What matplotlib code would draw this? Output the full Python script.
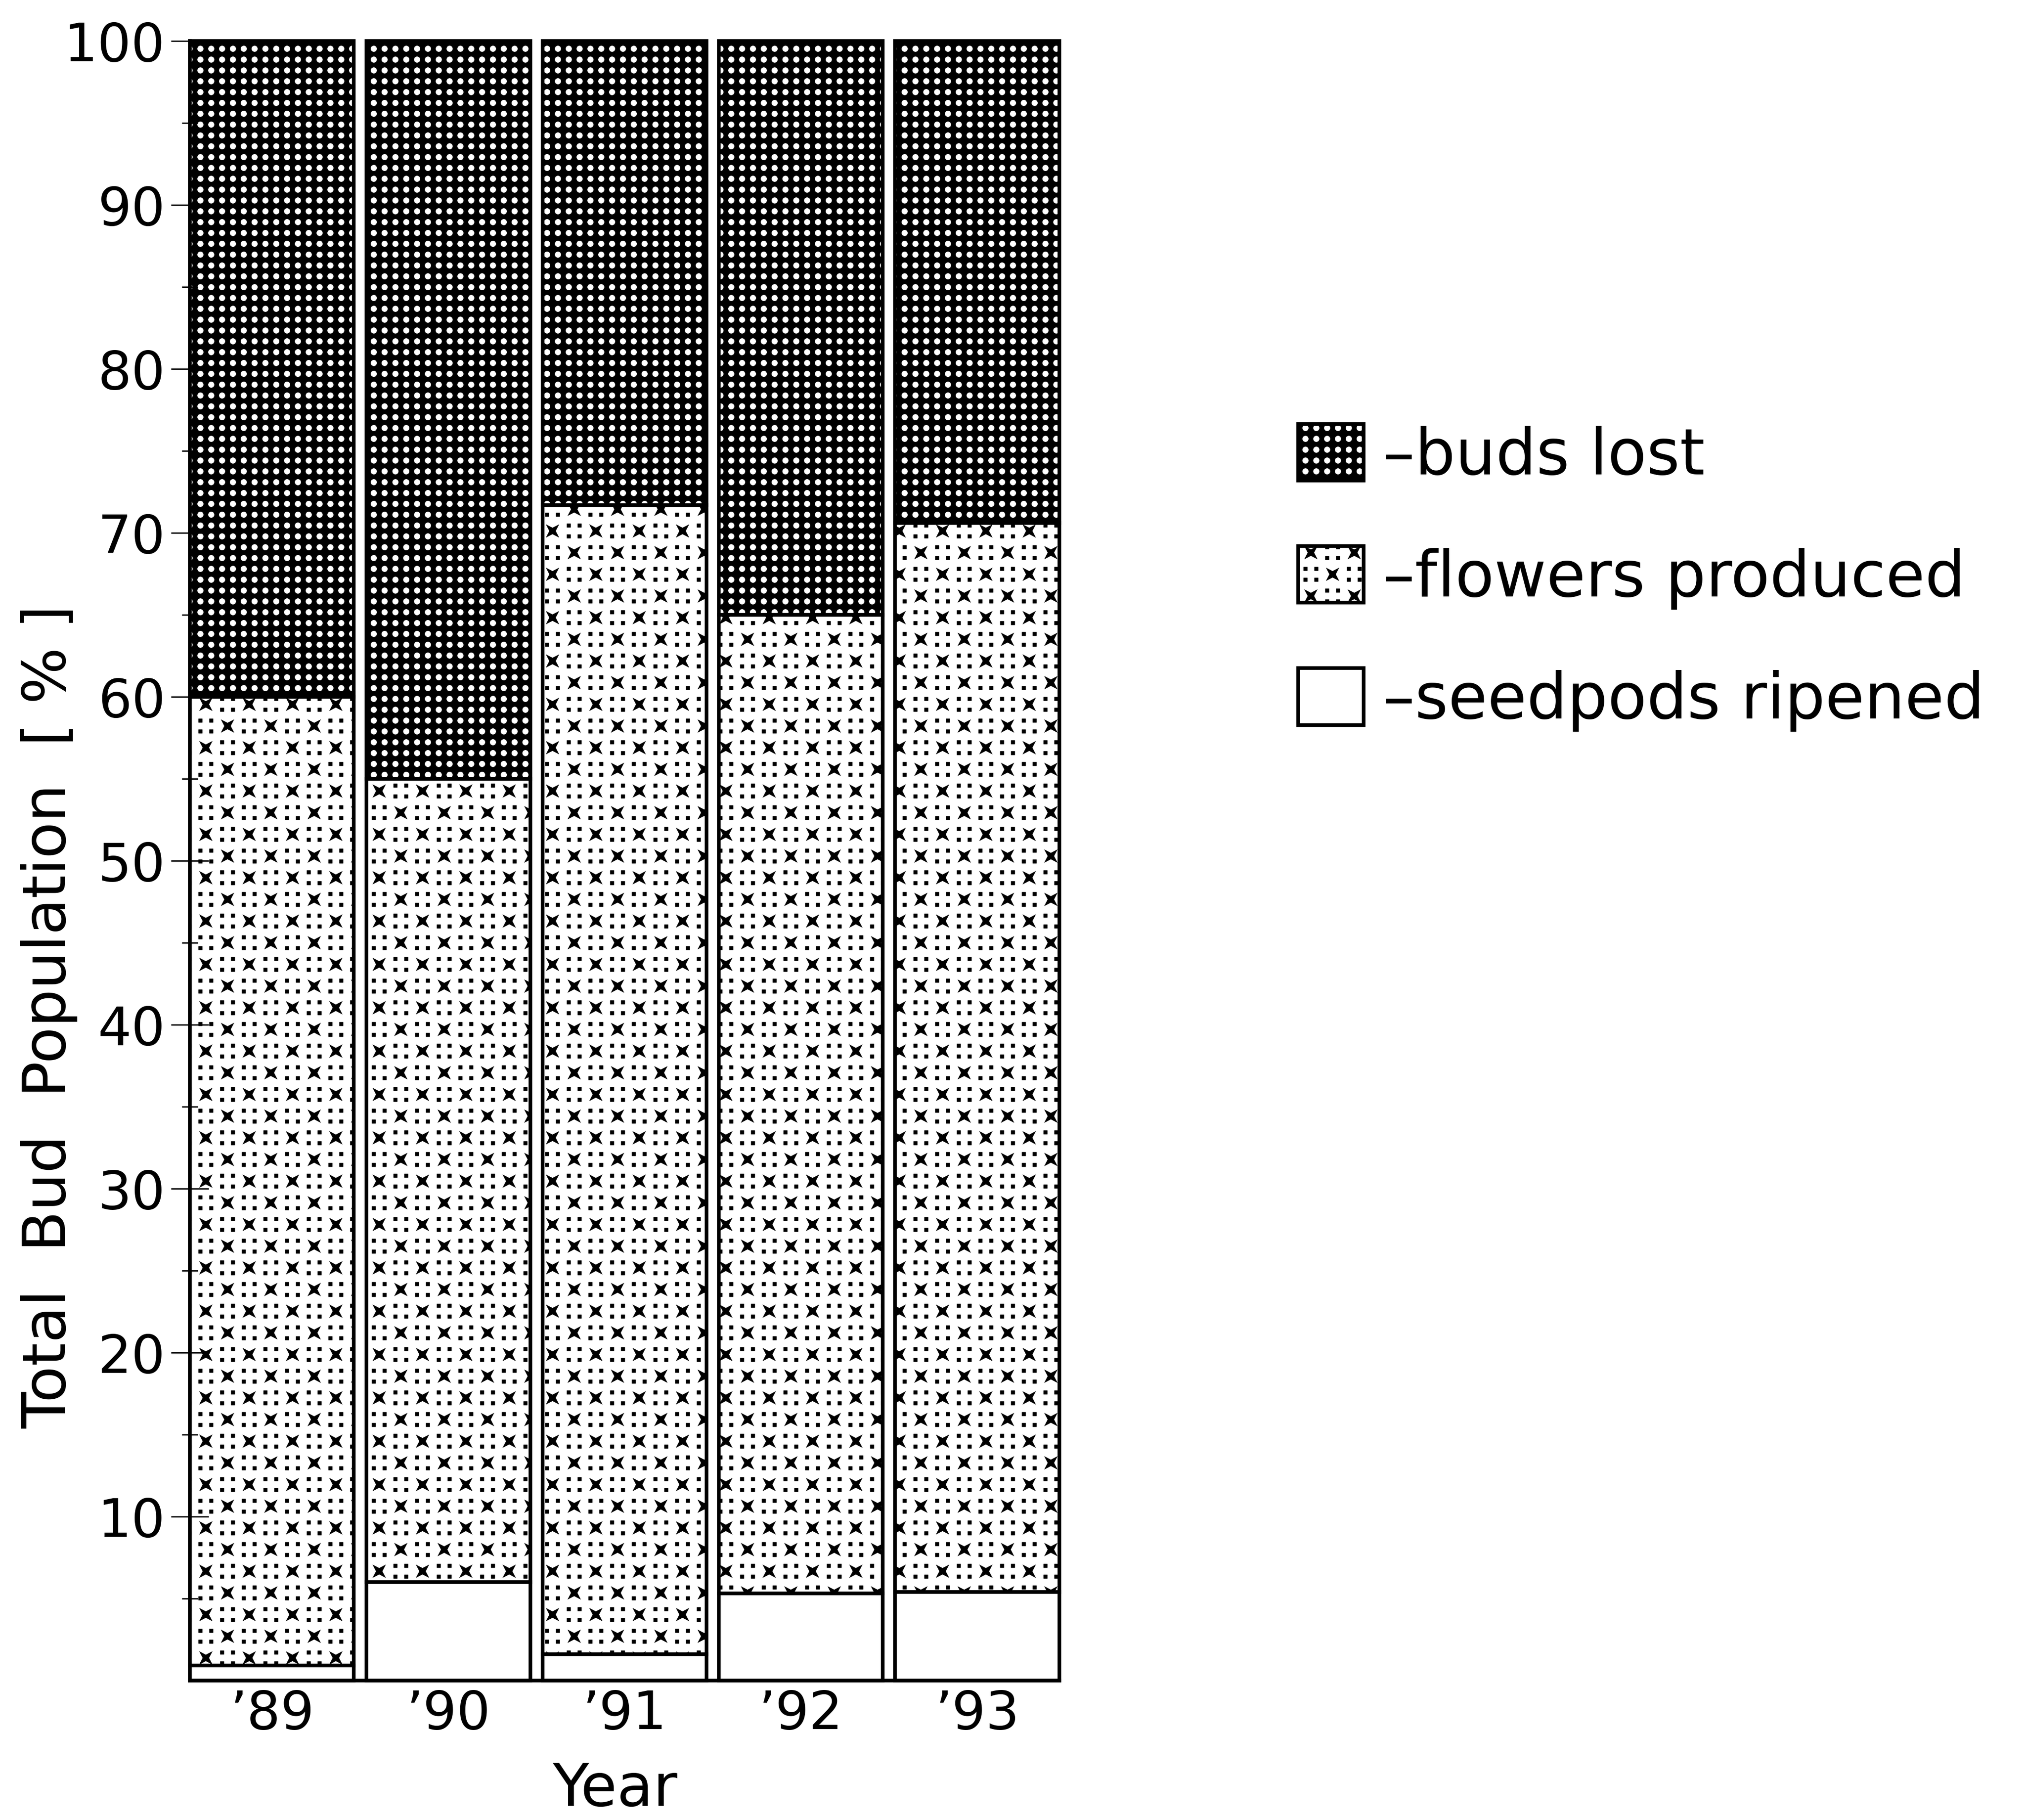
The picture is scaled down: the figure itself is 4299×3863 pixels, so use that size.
# Bud fate per year: stacked bars of buds lost / flowers produced / seedpods ripened
import numpy as np
import matplotlib
matplotlib.use("Agg")
import matplotlib.pyplot as plt
import matplotlib.hatch as mhatch
from matplotlib.path import Path


# Data (percent of total bud population)
years = ["\u201989", "\u201990", "\u201991", "\u201992", "\u201993"]
seedpods = [0.9, 6.0, 1.6, 5.3, 5.4]
flowers = [59.1, 49.0, 70.1, 59.7, 65.2]
buds_lost = [40.0, 45.0, 28.3, 35.0, 29.4]

labels = ["\u2013buds lost", "\u2013flowers produced", "\u2013seedpods ripened"]


# Custom hatch tiles, so the bars get the old screen-tone look.
# One tile is 72 pt (= dpi pixels) and is split in 4 x 4 cells.
CELLS = 4


def circle(cx, cy, r, flip=False):
    c = Path.unit_circle()
    v = c.vertices * r
    if flip:
        v = v * [-1, 1]  # mirrored = opposite winding -> hole
    return list(v + [cx, cy]), list(c.codes)


def square(cx, cy, h):
    verts = [(cx - h, cy - h), (cx + h, cy - h), (cx + h, cy + h), (cx - h, cy + h), (cx - h, cy - h)]
    codes = [Path.MOVETO, Path.LINETO, Path.LINETO, Path.LINETO, Path.CLOSEPOLY]
    return verts, codes


def star_x(cx, cy, r_out, r_in):
    # 4 pointed star with the points on the diagonals (a tapered "x")
    ang = np.deg2rad(np.arange(8) * 45.0 + 45.0)
    rad = np.where(np.arange(8) % 2 == 0, r_out, r_in)
    v = np.column_stack([cx + rad * np.cos(ang), cy + rad * np.sin(ang)])
    verts = list(v) + [v[0]]
    codes = [Path.MOVETO] + [Path.LINETO] * 7 + [Path.CLOSEPOLY]
    return verts, codes


class TileHatch(mhatch.HatchPatternBase):
    key = ""

    def __init__(self, hatch, density):
        verts, codes = [], []
        if self.key and self.key in hatch:
            verts, codes = self.build()
        self.verts = np.array(verts, float).reshape(-1, 2)
        self.vcodes = np.array(codes, Path.code_type)
        self.num_vertices = len(self.verts)

    def set_vertices_and_codes(self, vertices, codes):
        vertices[:] = self.verts
        codes[:] = self.vcodes

    get_vertices_and_codes = set_vertices_and_codes


class BudsHatch(TileHatch):
    # black tile with round white holes
    key = "o"

    def build(self):
        verts, codes = square(0.5, 0.5, 0.5)
        for i in range(CELLS):
            for j in range(CELLS):
                v, c = circle((i + .5) / CELLS, (j + .5) / CELLS, 0.076, flip=True)
                verts += v
                codes += c
        return verts, codes


class FlowersHatch(TileHatch):
    # small dots, with crosses on a checkerboard of 2x2 blocks
    key = "O"

    def build(self):
        verts, codes = [], []
        for i in range(CELLS):
            for j in range(CELLS):
                if (i // 2 + j // 2) % 2 == 1:
                    v, c = square((i + .5) / CELLS, (j + .5) / CELLS, 0.04)
                    verts += v
                    codes += c
        for cx, cy in [(0.25, 0.25), (0.75, 0.75)]:
            v, c = star_x(cx, cy, 0.2, 0.068)
            verts += v
            codes += c
        return verts, codes


mhatch._hatch_types = [t for t in mhatch._hatch_types
                       if t not in (mhatch.SmallCircles, mhatch.LargeCircles)]
mhatch._hatch_types += [BudsHatch, FlowersHatch]

plt.rcParams['hatch.linewidth'] = 0.8
plt.rcParams['hatch.color'] = 'black'
plt.rcParams['font.family'] = ['DejaVu Sans']

DPI = 92
fig = plt.figure(figsize=(4299.4 / DPI, 3863.4 / DPI), dpi=DPI)
ax = fig.add_axes([0.0938, 0.0767, 0.4292, 0.9006])

x = np.arange(len(years))
w = 0.93
kw = dict(width=w, edgecolor='black', linewidth=6, clip_on=False)

b_seed = ax.bar(x, seedpods, facecolor='white', label=labels[2], **kw)
b_flow = ax.bar(x, flowers, bottom=seedpods, facecolor='white', hatch='O',
                label=labels[1], **kw)
b_lost = ax.bar(x, buds_lost, bottom=np.add(seedpods, flowers), facecolor='white',
                hatch='o', label=labels[0], **kw)

ax.set_xlim(-w / 2, len(years) - 1 + w / 2)
ax.set_ylim(0, 100)

for s in ['top', 'right']:
    ax.spines[s].set_visible(False)
for s in ['left', 'bottom']:
    ax.spines[s].set_linewidth(6)

ax.set_yticks(range(10, 101, 10))
ax.set_yticks(range(5, 100, 10), minor=True)
ax.tick_params(axis='y', which='major', direction='inout', length=62, width=2.2,
               labelsize=88, pad=10)
ax.tick_params(axis='y', which='minor', direction='inout', length=27, width=2.2)
ax.set_xticks(x, years)
ax.tick_params(axis='x', length=0, labelsize=88, pad=14)

ax.set_ylabel("Total  Bud  Population  [ % ]", fontsize=99)
ax.yaxis.set_label_coords(-0.129, 0.405)
ax.set_xlabel("Year", fontsize=98)
ax.xaxis.set_label_coords(0.489, -0.049)

fig.legend([b_lost, b_flow, b_seed], labels, loc='upper left',
           bbox_to_anchor=(0.641, 0.767), frameon=False, fontsize=106,
           handlelength=1.03, handleheight=0.99, handletextpad=0.3,
           labelspacing=0.92, borderpad=0, borderaxespad=0)

fig.savefig("out.png", dpi=DPI)
